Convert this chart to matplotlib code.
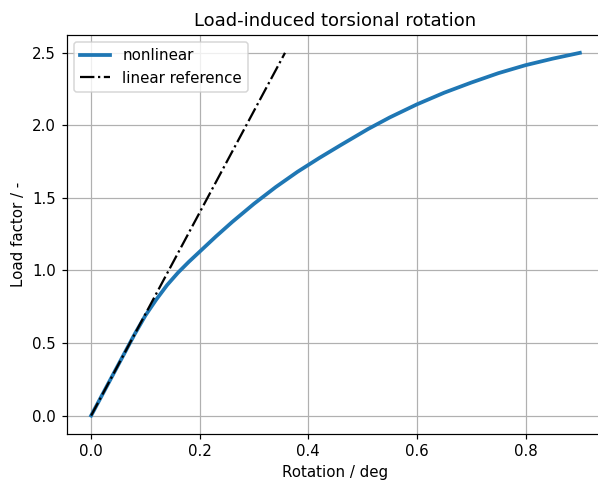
import numpy as np
import matplotlib
matplotlib.use("Agg")
import matplotlib.pyplot as plt

# nonlinear load path
rot = [0.0, 0.02, 0.04, 0.06, 0.08, 0.10, 0.12, 0.14, 0.16, 0.18, 0.20,
       0.23, 0.26, 0.30, 0.34, 0.38, 0.42, 0.46, 0.51, 0.55, 0.60, 0.65,
       0.70, 0.75, 0.80, 0.85, 0.90]
load = [0.0, 0.14, 0.28, 0.42, 0.56, 0.69, 0.80, 0.90, 0.985, 1.06, 1.13,
        1.235, 1.335, 1.46, 1.575, 1.68, 1.775, 1.865, 1.975, 2.055, 2.145,
        2.225, 2.295, 2.36, 2.415, 2.46, 2.50]

# linear reference
rot_lin = [0.0, 0.357]
load_lin = [0.0, 2.5]

DPI = 108
fig = plt.figure(figsize=(598 / DPI, 482 / DPI), dpi=DPI)
W, H = 598.0, 482.0
ax = fig.add_axes([66.7 / W, (H - 433.7) / H, (604.3 - 66.7) / W, (433.7 - 34.7) / H])

ax.plot(rot, load, color="#1f77b4", lw=2.5, label="nonlinear")
ax.plot(rot_lin, load_lin, "k-.", lw=1.5, label="linear reference")

ax.set_title("Load-induced torsional rotation")
ax.set_xlabel("Rotation / deg")
ax.set_ylabel("Load factor / -")
ax.grid(True)
ax.spines["right"].set_visible(False)  # cut off at image edge
ax.legend(loc="upper left")

fig.savefig("out.png", dpi=DPI)
